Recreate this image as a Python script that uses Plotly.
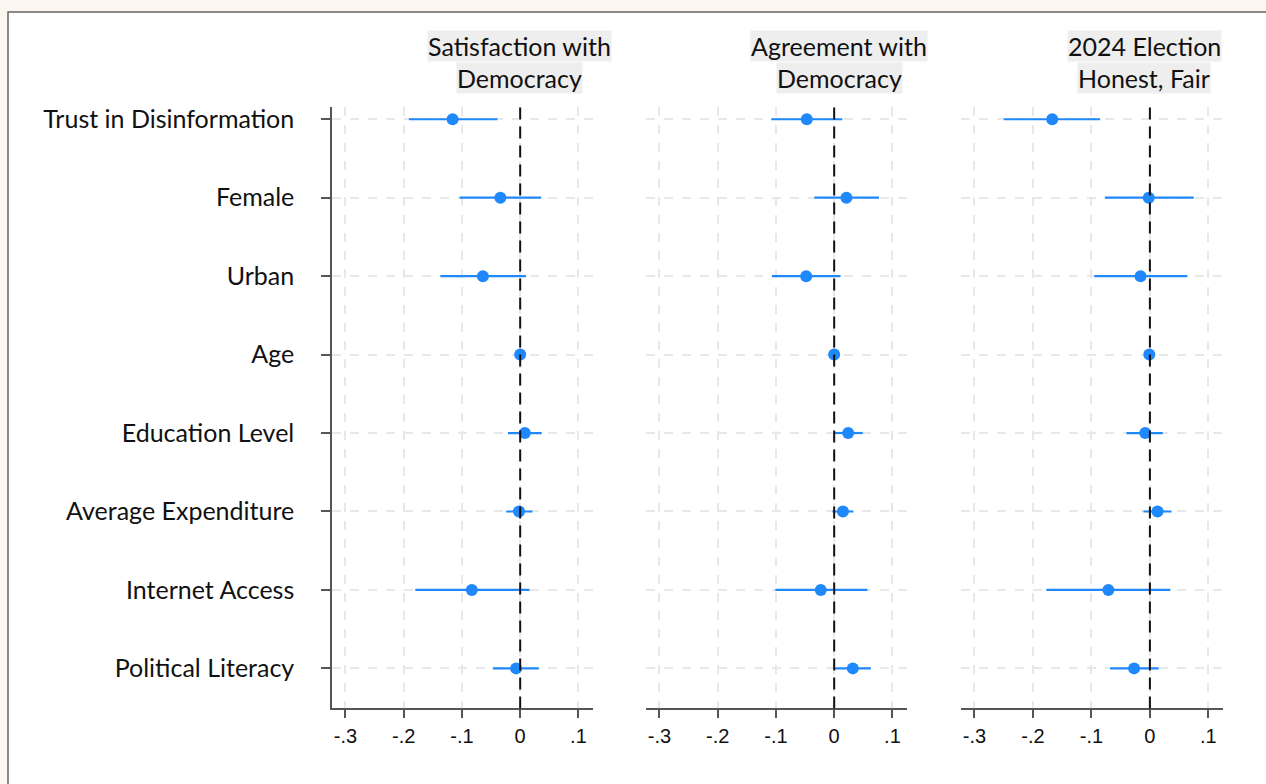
import plotly.graph_objects as go

# Coefficient plot: three outcomes, eight predictors
predictors = [
    "Trust in Disinformation", "Female", "Urban", "Age",
    "Education Level", "Average Expenditure", "Internet Access", "Political Literacy",
]

outcome_lines = [
    ("Satisfaction with", "Democracy"),
    ("Agreement with", "Democracy"),
    ("2024 Election", "Honest, Fair"),
]

# point estimates
sat_est = [-0.116, -0.034, -0.064, 0.000, 0.008, -0.002, -0.083, -0.007]
agr_est = [-0.047, 0.021, -0.048, 0.000, 0.024, 0.015, -0.023, 0.032]
elc_est = [-0.167, -0.002, -0.016, -0.001, -0.008, 0.013, -0.071, -0.027]

# lower / upper confidence bounds
sat_lo = [-0.191, -0.104, -0.137, -0.002, -0.021, -0.024, -0.180, -0.047]
sat_hi = [-0.039, 0.036, 0.010, 0.002, 0.037, 0.021, 0.016, 0.032]
agr_lo = [-0.108, -0.034, -0.107, -0.002, 0.001, -0.003, -0.101, 0.001]
agr_hi = [0.014, 0.077, 0.011, 0.002, 0.049, 0.033, 0.057, 0.063]
elc_lo = [-0.250, -0.077, -0.095, -0.003, -0.040, -0.011, -0.177, -0.068]
elc_hi = [-0.085, 0.075, 0.064, 0.001, 0.022, 0.037, 0.035, 0.015]

tick_vals = [-0.3, -0.2, -0.1, 0.0, 0.1]
tick_text = ["-.3", "-.2", "-.1", "0", ".1"]

W, H = 1266, 784
BLUE = "#1f88fb"
AXIS = "#555555"
GRID = "#e8e8e8"
LABEL_FONT = "Lato"
LABEL_SIZE = 25

panels = [
    (sat_est, sat_lo, sat_hi),
    (agr_est, agr_lo, agr_hi),
    (elc_est, elc_lo, elc_hi),
]
# panel pixel extents (left, right) and title centres
panel_px = [(332, 593), (646, 907), (961, 1223)]
title_cx = [519, 839, 1144]
y_top, y_bot = 104, 708

fig = go.Figure()

for i, (est, lo, hi) in enumerate(panels):
    ax = "" if i == 0 else str(i + 1)
    fig.add_trace(go.Scatter(
        x=est, y=predictors, mode="markers",
        marker=dict(color=BLUE, size=12),
        error_x=dict(type="data", symmetric=False,
                     array=[h - e for h, e in zip(hi, est)],
                     arrayminus=[e - l for e, l in zip(est, lo)],
                     width=0, thickness=2.2, color=BLUE),
        xaxis="x" + ax, yaxis="y" + ax, showlegend=False, cliponaxis=False,
    ))

layout = dict(
    width=W, height=H,
    margin=dict(l=0, r=0, t=0, b=0),
    paper_bgcolor="#fcf7f1",
    plot_bgcolor="rgba(0,0,0,0)",
    showlegend=False,
    shapes=[],
    annotations=[],
)

ydom = [1 - y_bot / H, 1 - y_top / H]
for i, (x0, x1) in enumerate(panel_px):
    ax = "" if i == 0 else str(i + 1)
    layout["xaxis" + ax] = dict(
        domain=[x0 / W, x1 / W], range=[-0.323, 0.125],
        tickvals=tick_vals, ticktext=tick_text,
        ticks="outside", ticklen=8, tickwidth=1.5, tickcolor=AXIS,
        ticklabelstandoff=1,
        showline=True, linecolor=AXIS, linewidth=1.5,
        showgrid=True, gridcolor=GRID, gridwidth=1.5, griddash="dash",
        zeroline=False,
        tickfont=dict(family="Liberation Sans, Arial", size=20, color="#111111"),
        anchor="y" + ax, fixedrange=True,
    )
    ycfg = dict(
        domain=ydom, type="category", categoryarray=predictors,
        range=[7.51, -0.15],
        showgrid=True, gridcolor=GRID, gridwidth=1.5, griddash="dash",
        zeroline=False, anchor="x" + ax, fixedrange=True,
    )
    if i == 0:
        ycfg.update(
            showline=True, linecolor=AXIS, linewidth=1.5,
            ticks="outside", ticklen=9, tickwidth=1.5, tickcolor=AXIS,
            ticklabelstandoff=22,
            tickfont=dict(family=LABEL_FONT, size=LABEL_SIZE, color="#111111"),
        )
    else:
        ycfg.update(showline=False, showticklabels=False, ticks="", matches="y")
    layout["yaxis" + ax] = ycfg

    # reference line at zero
    layout["shapes"].append(dict(
        type="line", xref="x" + ax, yref="y" + ax + " domain",
        x0=0, x1=0, y0=0, y1=1,
        line=dict(color="#111111", width=2, dash="12px,7px"), layer="above",
    ))

    # two-line outcome title, each line on its own grey band
    for j, txt in enumerate(outcome_lines[i]):
        layout["annotations"].append(dict(
            text=txt, xref="paper", yref="paper",
            x=title_cx[i] / W, y=1 - (42 + 32 * j) / H,
            xanchor="center", yanchor="middle", showarrow=False,
            font=dict(family=LABEL_FONT, size=LABEL_SIZE, color="#111111"),
            bgcolor="#eeeeee", borderpad=0,
        ))

# white card with a grey frame
layout["shapes"].insert(0, dict(
    type="rect", xref="paper", yref="paper",
    x0=8 / W, x1=1.02, y0=-0.02, y1=1 - 8 / H,
    line=dict(color="#666666", width=1.5), fillcolor="white", layer="below",
))

fig.update_layout(**layout)
fig.write_html("out.html")
